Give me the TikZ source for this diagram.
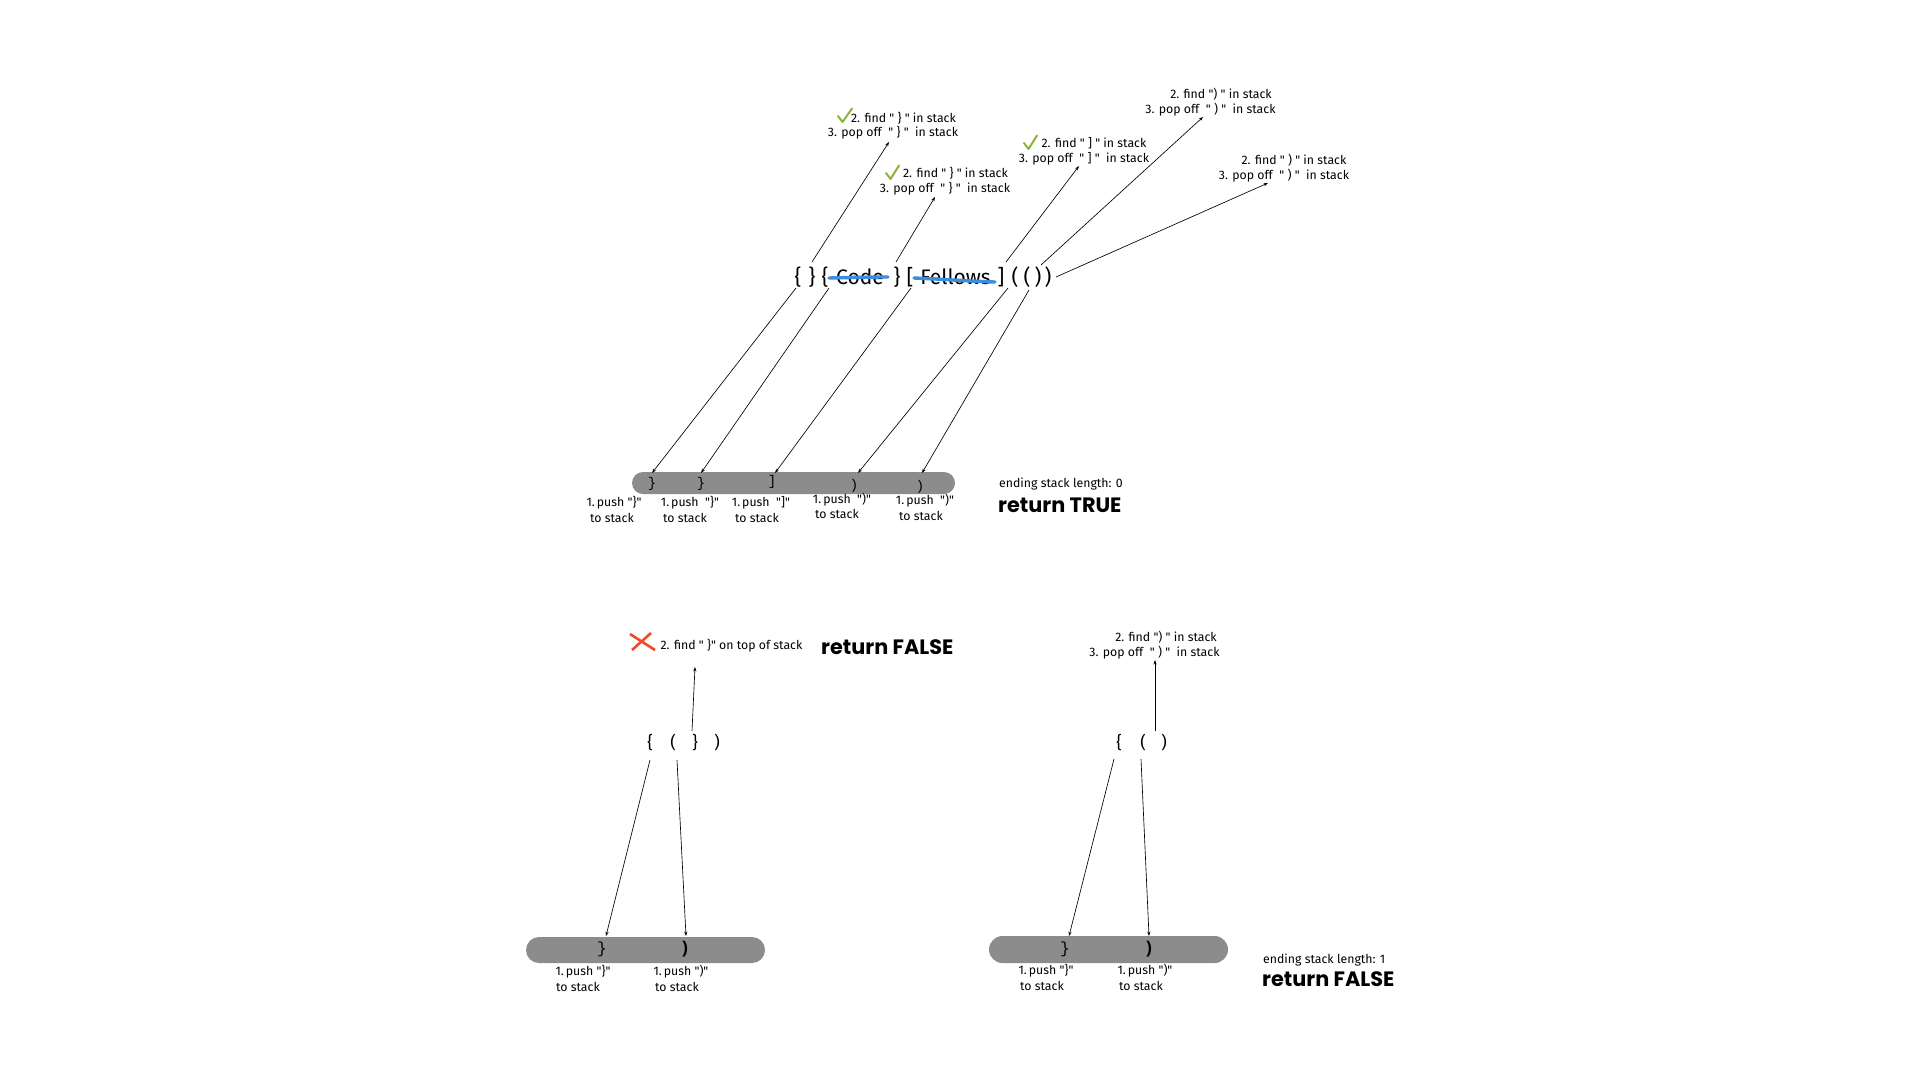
\documentclass[tikz,border=0pt]{standalone}
\usepackage{fontspec}
\setmainfont{Fira Sans}[Ligatures=TeXOff]
\newfontfamily\popfont{Poppins}
\newfontfamily\stkfont{Liberation Mono}
\usetikzlibrary{arrows.meta,calc}
\newcommand{\dq}{\symbol{34}}
\definecolor{barGrey}{HTML}{8C8C8C}
\definecolor{okGreen}{HTML}{8DB33A}
\definecolor{noRed}{HTML}{EE4A2B}
\definecolor{strikeBlue}{HTML}{3B8DE0}
\tikzset{
  lbl/.style={font=\fontsize{12.3}{15}\selectfont, inner sep=0pt},
  arr/.style={-{Stealth[length=4.5pt,width=3.2pt]}, line width=0.65pt, black},
  expch/.style={font=\fontsize{21}{21}\selectfont, inner sep=0pt},
  botch/.style={font=\fontsize{17}{17}\selectfont, inner sep=0pt},
  stackbar/.style={fill=barGrey, draw=none, rounded corners=11pt, inner sep=0pt},
  stk/.style={font=\stkfont\fontsize{14}{14}\selectfont, inner sep=0pt},
  stkb/.style={font=\stkfont\bfseries\fontsize{17}{17}\selectfont, inner sep=0pt},
  bigres/.style={font=\popfont\bfseries\fontsize{20.8}{20.8}\selectfont, inner sep=0pt, anchor=west},
  smallres/.style={font=\fontsize{12.3}{12.3}\selectfont, inner sep=0pt, anchor=west},
  okmark/.style={draw=okGreen, line width=2pt, line cap=round, line join=round},
  nomark/.style={draw=noRed, line width=2.6pt},
  strike/.style={draw=strikeBlue, line width=3.4pt, line cap=round}
}
\begin{document}
\begin{tikzpicture}[x=1pt,y=-1pt]
\useasboundingbox (0,0) rectangle (1920,1080);
\fill[white] (0,0) rectangle (1920,1080);

% ---------------- top expression ----------------
\node[expch] (e1) at (798,277) {\{};
\node[expch] (e2) at (812,277) {\}};
\node[expch] (e3) at (825,277) {\{};
\node[expch] (ecode) at (860,277) {Code};
\node[expch] (e4) at (897,277) {\}};
\node[expch] (e5) at (910,277) {[};
\node[expch] (efel) at (955.5,277) {Fellows};
\node[expch] (e6) at (1001,277) {]};
\node[expch] (e7) at (1015,277) {(};
\node[expch] (e8) at (1027,277) {(};
\node[expch] (e9) at (1038,277) {)};
\node[expch] (e10) at (1048,277) {)};
\draw[strike] (829,278) .. controls (850,277.5) and (870,277) .. (888,277);
\draw[strike] (914,278) .. controls (940,279) and (965,281) .. (995,282);

% ---------------- top labels ----------------
\node[lbl] (L1a) at (903.5,118) {2. find \dq\ \} \dq\ in stack};
\node[lbl] (L1b) at (893,133) {3. pop off~~\dq\ \} \dq~~in stack};
\node[lbl] (L2a) at (955.5,173) {2. find \dq\ \} \dq\ in stack};
\node[lbl] (L2b) at (945,189) {3. pop off~~\dq\ \} \dq~~in stack};
\node[lbl] (L3a) at (1094,143) {2. find \dq\ ] \dq\ in stack};
\node[lbl] (L3b) at (1084,159) {3. pop off~~\dq\ ] \dq~~in stack};
\node[lbl] (L4a) at (1221,94) {2. find \dq) \dq\ in stack};
\node[lbl] (L4b) at (1210.5,110) {3. pop off~~\dq\ ) \dq~~in stack};
\node[lbl] (L5a) at (1294,160) {2. find \dq\ ) \dq\ in stack};
\node[lbl] (L5b) at (1284,176) {3. pop off~~\dq\ ) \dq~~in stack};

\draw[okmark] (838,116) -- (842.5,122) -- (852,108.5);
\draw[okmark] (886,173) -- (890.5,179) -- (899,165.5);
\draw[okmark] (1024,143) -- (1028.5,149) -- (1037,135.5);

\coordinate (t1) at (889,142);
\coordinate (t2) at (935,197);
\coordinate (t3) at (1079,166);
\coordinate (t4) at (1203,117);
\coordinate (t5) at (1268,183);
\draw[arr] ($(e2.center)+(0,-15)$) -- (t1);
\draw[arr] ($(e4.center)+(-1,-15)$) -- (t2);
\draw[arr] ($(e6.center)+(5,-15)$) -- (t3);
\draw[arr] ($(e9.center)+(3,-12)$) -- (t4);
\draw[arr] ($(e10.center)+(8,0)$) -- (t5);

% ---------------- top stack ----------------
\node[stackbar, minimum width=323pt, minimum height=22pt] (bar1) at (793.5,483) {};
\node[stk] (s1) at (652,484) {\}};
\node[stk] (s2) at (701,484) {\}};
\node[stk] (s3) at (772,482) {]};
\node[stk] (s4) at (854,486) {)};
\node[stk] (s5) at (920,487) {)};

\coordinate (b1) at (652,473);
\coordinate (b2) at (701,473);
\coordinate (b3) at (775,473);
\coordinate (b4) at (858,473);
\coordinate (b5) at (922,473);
\draw[arr] ($(e1.center)+(-2,11)$) -- (b1);
\draw[arr] ($(e3.center)+(4,11)$) -- (b2);
\draw[arr] ($(e5.center)+(1,11)$) -- (b3);
\draw[arr] ($(e7.center)+(-7,11)$) -- (b4);
\draw[arr] ($(e8.center)+(2,13)$) -- (b5);

\node[lbl] (p1a) at (614,503) {1.\,push \dq\}\dq};
\node[lbl] (p1b) at (612,518) {to stack};
\node[lbl] (p2a) at (690,503) {1.\,push~~\dq\}\dq};
\node[lbl] (p2b) at (685,518) {to stack};
\node[lbl] (p3a) at (761,503) {1.\,push~~\dq]\dq};
\node[lbl] (p3b) at (757,518) {to stack};
\node[lbl] (p4a) at (842,500) {1.\,push~~\dq)\dq};
\node[lbl] (p4b) at (837,514) {to stack};
\node[lbl] (p5a) at (925,501) {1.\,push~~\dq)\dq};
\node[lbl] (p5b) at (921,516) {to stack};

\node[smallres] (len0) at (999,484) {ending stack length: 0};
\node[bigres] (rtrue) at (998,505) {return TRUE};

% ---------------- bottom left ----------------
\draw[nomark] (630,634) -- (655,650);
\draw[nomark] (651,633) -- (632,650);
\node[lbl] (fl) at (731.5,646) {2. find \dq\ \}\dq\ on top of stack};
\node[bigres] (rfalse1) at (821,647) {return FALSE};

\node[botch] (f1) at (650,743) {\{};
\node[botch] (f2) at (673,743) {(};
\node[botch] (f3) at (695,743) {\}};
\node[botch] (f4) at (717,743) {)};
\coordinate (u1) at (695,667);
\draw[arr] ($(f3.center)+(-3,-12)$) -- (u1);

\node[stackbar, minimum width=239pt, minimum height=26pt, rounded corners=13pt] (bar2) at (645.5,950) {};
\node[stk, font=\stkfont\fontsize{16}{16}\selectfont] (g1) at (602,949) {\}};
\node[stkb] (g2) at (685,949) {)};
\coordinate (d1) at (606,936);
\coordinate (d2) at (686,936);
\draw[arr] ($(f1.center)+(0,17)$) -- (d1);
\draw[arr] ($(f2.center)+(4,17)$) -- (d2);

\node[lbl] (q1a) at (583,972) {1.\,push \dq\}\dq};
\node[lbl] (q1b) at (578,987) {to stack};
\node[lbl] (q2a) at (681,972) {1.\,push \dq)\dq};
\node[lbl] (q2b) at (677,987) {to stack};

% ---------------- bottom right ----------------
\node[lbl] (R1a) at (1166,637) {2. find \dq) \dq\ in stack};
\node[lbl] (R1b) at (1154.5,653) {3. pop off~~\dq\ ) \dq~~in stack};
\node[botch] (h1) at (1119,743) {\{};
\node[botch] (h2) at (1143,743) {(};
\node[botch] (h3) at (1164,743) {)};
\coordinate (u2) at (1155,660);
\draw[arr] (h2.north -| u2) ++(0,-3) -- (u2);

\node[stackbar, minimum width=239pt, minimum height=27pt, rounded corners=13.5pt] (bar3) at (1108.5,949.5) {};
\node[stk, font=\stkfont\fontsize{16}{16}\selectfont] (k1) at (1065,949) {\}};
\node[stkb] (k2) at (1149,949) {)};
\coordinate (d3) at (1069,936);
\coordinate (d4) at (1149,936);
\draw[arr] ($(h1.center)+(-5,16)$) -- (d3);
\draw[arr] ($(h2.center)+(-2,16)$) -- (d4);

\node[lbl] (r1a) at (1046,971) {1.\,push \dq\}\dq};
\node[lbl] (r1b) at (1042,986) {to stack};
\node[lbl] (r2a) at (1145,971) {1.\,push \dq)\dq};
\node[lbl] (r2b) at (1141,986) {to stack};

\node[smallres] (len1) at (1263,960) {ending stack length: 1};
\node[bigres] (rfalse2) at (1262,979) {return FALSE};
\end{tikzpicture}
\end{document}
